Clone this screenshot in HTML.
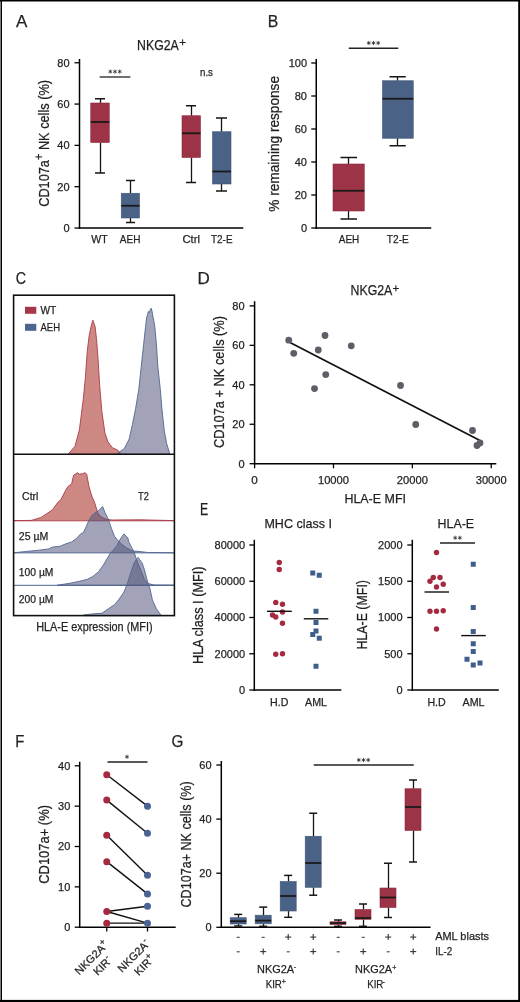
<!DOCTYPE html>
<html><head><meta charset="utf-8"><style>
html,body{margin:0;padding:0;background:#fff;width:520px;height:1002px;overflow:hidden;position:relative}
text{font-family:"Liberation Sans",sans-serif;stroke:#231f20;stroke-width:0.25px}
</style></head><body>
<svg width="520" height="1002" viewBox="0 0 520 1002" style="position:absolute;left:0;top:0;will-change:transform" font-family="Liberation Sans, sans-serif" fill="#231f20">
<rect width="520" height="1002" fill="#fff"/>
<text x="16.00" y="26.80" font-size="17" text-anchor="start" >A</text>
<text x="137.00" y="50.20" font-size="14.3" text-anchor="start" textLength="41.80" lengthAdjust="spacingAndGlyphs" >NKG2A</text>
<text x="179.20" y="46.20" font-size="11.5" text-anchor="start" >+</text>
<line x1="79.50" y1="59.00" x2="79.50" y2="228.70" stroke="#000" stroke-width="1.5"/>
<line x1="74.50" y1="228.00" x2="79.50" y2="228.00" stroke="#000" stroke-width="1.3"/>
<text x="69.60" y="231.95" font-size="11" text-anchor="end" >0</text>
<line x1="74.50" y1="186.69" x2="79.50" y2="186.69" stroke="#000" stroke-width="1.3"/>
<text x="69.60" y="190.64" font-size="11" text-anchor="end" >20</text>
<line x1="74.50" y1="145.38" x2="79.50" y2="145.38" stroke="#000" stroke-width="1.3"/>
<text x="69.60" y="149.33" font-size="11" text-anchor="end" >40</text>
<line x1="74.50" y1="104.06" x2="79.50" y2="104.06" stroke="#000" stroke-width="1.3"/>
<text x="69.60" y="108.01" font-size="11" text-anchor="end" >60</text>
<line x1="74.50" y1="62.75" x2="79.50" y2="62.75" stroke="#000" stroke-width="1.3"/>
<text x="69.60" y="66.70" font-size="11" text-anchor="end" >80</text>
<line x1="78.80" y1="228.00" x2="243.30" y2="228.00" stroke="#000" stroke-width="1.5"/>
<line x1="100.50" y1="98.75" x2="100.50" y2="103.00" stroke="#151515" stroke-width="1.3"/>
<line x1="100.50" y1="142.50" x2="100.50" y2="173.00" stroke="#151515" stroke-width="1.3"/>
<line x1="95.00" y1="98.75" x2="105.00" y2="98.75" stroke="#151515" stroke-width="1.5"/>
<line x1="95.00" y1="173.00" x2="105.00" y2="173.00" stroke="#151515" stroke-width="1.5"/>
<rect x="90.75" y="103.00" width="18.50" height="39.50" fill="#9d3346" stroke="#8f2a3c" stroke-width="0.6"/>
<line x1="90.75" y1="122.00" x2="109.25" y2="122.00" stroke="#1a1a1a" stroke-width="1.8"/>
<line x1="130.50" y1="180.50" x2="130.50" y2="193.25" stroke="#151515" stroke-width="1.3"/>
<line x1="130.50" y1="218.00" x2="130.50" y2="222.50" stroke="#151515" stroke-width="1.3"/>
<line x1="126.00" y1="180.50" x2="135.00" y2="180.50" stroke="#151515" stroke-width="1.5"/>
<line x1="126.00" y1="222.50" x2="135.00" y2="222.50" stroke="#151515" stroke-width="1.5"/>
<rect x="121.25" y="193.25" width="18.25" height="24.75" fill="#4a6286" stroke="#3f5678" stroke-width="0.6"/>
<line x1="121.25" y1="205.75" x2="139.50" y2="205.75" stroke="#1a1a1a" stroke-width="1.8"/>
<line x1="191.50" y1="105.75" x2="191.50" y2="115.75" stroke="#151515" stroke-width="1.3"/>
<line x1="191.50" y1="157.50" x2="191.50" y2="182.50" stroke="#151515" stroke-width="1.3"/>
<line x1="186.00" y1="105.75" x2="196.00" y2="105.75" stroke="#151515" stroke-width="1.5"/>
<line x1="186.00" y1="182.50" x2="196.00" y2="182.50" stroke="#151515" stroke-width="1.5"/>
<rect x="182.00" y="115.75" width="18.50" height="41.75" fill="#9d3346" stroke="#8f2a3c" stroke-width="0.6"/>
<line x1="182.00" y1="133.25" x2="200.50" y2="133.25" stroke="#1a1a1a" stroke-width="1.8"/>
<line x1="221.50" y1="118.00" x2="221.50" y2="131.75" stroke="#151515" stroke-width="1.3"/>
<line x1="221.50" y1="184.00" x2="221.50" y2="191.00" stroke="#151515" stroke-width="1.3"/>
<line x1="216.00" y1="118.00" x2="227.00" y2="118.00" stroke="#151515" stroke-width="1.5"/>
<line x1="216.00" y1="191.00" x2="227.00" y2="191.00" stroke="#151515" stroke-width="1.5"/>
<rect x="212.50" y="131.75" width="18.50" height="52.25" fill="#4a6286" stroke="#3f5678" stroke-width="0.6"/>
<line x1="212.50" y1="171.50" x2="231.00" y2="171.50" stroke="#1a1a1a" stroke-width="1.8"/>
<line x1="99.60" y1="77.00" x2="130.40" y2="77.00" stroke="#222" stroke-width="1.3"/>
<line x1="110.30" y1="69.50" x2="110.30" y2="73.70" stroke="#222" stroke-width="0.75"/>
<line x1="112.12" y1="70.55" x2="108.48" y2="72.65" stroke="#222" stroke-width="0.75"/>
<line x1="112.12" y1="72.65" x2="108.48" y2="70.55" stroke="#222" stroke-width="0.75"/>
<line x1="115.00" y1="69.50" x2="115.00" y2="73.70" stroke="#222" stroke-width="0.75"/>
<line x1="116.82" y1="70.55" x2="113.18" y2="72.65" stroke="#222" stroke-width="0.75"/>
<line x1="116.82" y1="72.65" x2="113.18" y2="70.55" stroke="#222" stroke-width="0.75"/>
<line x1="119.70" y1="69.50" x2="119.70" y2="73.70" stroke="#222" stroke-width="0.75"/>
<line x1="121.52" y1="70.55" x2="117.88" y2="72.65" stroke="#222" stroke-width="0.75"/>
<line x1="121.52" y1="72.65" x2="117.88" y2="70.55" stroke="#222" stroke-width="0.75"/>
<text x="200.00" y="76.20" font-size="11.3" text-anchor="start" textLength="13.00" lengthAdjust="spacingAndGlyphs" >n.s</text>
<text x="99.50" y="243.30" font-size="10.8" text-anchor="middle" textLength="16.40" lengthAdjust="spacingAndGlyphs" >WT</text>
<text x="130.10" y="243.30" font-size="10.8" text-anchor="middle" textLength="20.60" lengthAdjust="spacingAndGlyphs" >AEH</text>
<text x="191.20" y="243.30" font-size="10.8" text-anchor="middle" textLength="17.50" lengthAdjust="spacingAndGlyphs" >Ctrl</text>
<text x="221.80" y="243.30" font-size="10.8" text-anchor="middle" textLength="21.50" lengthAdjust="spacingAndGlyphs" >T2-E</text>
<text x="48.80" y="143.40" font-size="14.5" text-anchor="middle" textLength="126.80" lengthAdjust="spacingAndGlyphs" transform="rotate(-90 48.80 143.40)" >CD107a<tspan font-size="12.5" dy="-5.5">+</tspan><tspan dy="5.5"> NK cells (%)</tspan></text>
<text x="267.70" y="26.80" font-size="17" text-anchor="start" textLength="10.50" lengthAdjust="spacingAndGlyphs" >B</text>
<line x1="316.25" y1="59.00" x2="316.25" y2="228.70" stroke="#000" stroke-width="1.5"/>
<line x1="311.25" y1="228.00" x2="316.25" y2="228.00" stroke="#000" stroke-width="1.3"/>
<text x="307.00" y="231.95" font-size="11" text-anchor="end" >0</text>
<line x1="311.25" y1="195.00" x2="316.25" y2="195.00" stroke="#000" stroke-width="1.3"/>
<text x="307.00" y="198.95" font-size="11" text-anchor="end" >20</text>
<line x1="311.25" y1="162.00" x2="316.25" y2="162.00" stroke="#000" stroke-width="1.3"/>
<text x="307.00" y="165.95" font-size="11" text-anchor="end" >40</text>
<line x1="311.25" y1="129.00" x2="316.25" y2="129.00" stroke="#000" stroke-width="1.3"/>
<text x="307.00" y="132.95" font-size="11" text-anchor="end" >60</text>
<line x1="311.25" y1="96.00" x2="316.25" y2="96.00" stroke="#000" stroke-width="1.3"/>
<text x="307.00" y="99.95" font-size="11" text-anchor="end" >80</text>
<line x1="311.25" y1="63.00" x2="316.25" y2="63.00" stroke="#000" stroke-width="1.3"/>
<text x="307.00" y="66.95" font-size="11" text-anchor="end" >100</text>
<line x1="315.55" y1="228.00" x2="431.25" y2="228.00" stroke="#000" stroke-width="1.5"/>
<line x1="348.50" y1="157.50" x2="348.50" y2="164.00" stroke="#151515" stroke-width="1.3"/>
<line x1="348.50" y1="211.00" x2="348.50" y2="219.00" stroke="#151515" stroke-width="1.3"/>
<line x1="340.50" y1="157.50" x2="357.00" y2="157.50" stroke="#151515" stroke-width="1.5"/>
<line x1="340.50" y1="219.00" x2="357.00" y2="219.00" stroke="#151515" stroke-width="1.5"/>
<rect x="333.00" y="164.00" width="31.25" height="47.00" fill="#9d3346" stroke="#8f2a3c" stroke-width="0.6"/>
<line x1="333.00" y1="190.75" x2="364.25" y2="190.75" stroke="#1a1a1a" stroke-width="1.8"/>
<line x1="397.50" y1="76.75" x2="397.50" y2="80.75" stroke="#151515" stroke-width="1.3"/>
<line x1="397.50" y1="138.25" x2="397.50" y2="145.75" stroke="#151515" stroke-width="1.3"/>
<line x1="389.50" y1="76.75" x2="405.75" y2="76.75" stroke="#151515" stroke-width="1.5"/>
<line x1="389.50" y1="145.75" x2="405.75" y2="145.75" stroke="#151515" stroke-width="1.5"/>
<rect x="382.50" y="80.75" width="30.75" height="57.50" fill="#4a6286" stroke="#3f5678" stroke-width="0.6"/>
<line x1="382.50" y1="98.75" x2="413.25" y2="98.75" stroke="#1a1a1a" stroke-width="1.8"/>
<line x1="348.75" y1="48.25" x2="398.25" y2="48.25" stroke="#222" stroke-width="1.3"/>
<line x1="368.80" y1="40.90" x2="368.80" y2="45.10" stroke="#222" stroke-width="0.75"/>
<line x1="370.62" y1="41.95" x2="366.98" y2="44.05" stroke="#222" stroke-width="0.75"/>
<line x1="370.62" y1="44.05" x2="366.98" y2="41.95" stroke="#222" stroke-width="0.75"/>
<line x1="373.50" y1="40.90" x2="373.50" y2="45.10" stroke="#222" stroke-width="0.75"/>
<line x1="375.32" y1="41.95" x2="371.68" y2="44.05" stroke="#222" stroke-width="0.75"/>
<line x1="375.32" y1="44.05" x2="371.68" y2="41.95" stroke="#222" stroke-width="0.75"/>
<line x1="378.20" y1="40.90" x2="378.20" y2="45.10" stroke="#222" stroke-width="0.75"/>
<line x1="380.02" y1="41.95" x2="376.38" y2="44.05" stroke="#222" stroke-width="0.75"/>
<line x1="380.02" y1="44.05" x2="376.38" y2="41.95" stroke="#222" stroke-width="0.75"/>
<text x="349.00" y="243.30" font-size="10.8" text-anchor="middle" textLength="20.50" lengthAdjust="spacingAndGlyphs" >AEH</text>
<text x="397.80" y="243.30" font-size="10.8" text-anchor="middle" textLength="22.00" lengthAdjust="spacingAndGlyphs" >T2-E</text>
<text x="279.00" y="143.85" font-size="14.5" text-anchor="middle" textLength="135.70" lengthAdjust="spacingAndGlyphs" transform="rotate(-90 279.00 143.85)" >% remaining response</text>
<text x="15.70" y="284.10" font-size="17" text-anchor="start" textLength="10.30" lengthAdjust="spacingAndGlyphs" >C</text>
<path d="M68.20,454.20 L68.20,454.20 L75.00,446.20 L79.40,429.80 L83.20,399.80 L85.40,377.40 L87.20,351.90 L89.20,335.40 L91.40,325.00 L92.90,320.20 L95.10,326.50 L96.60,339.90 L98.10,359.40 L99.60,384.80 L101.90,411.80 L104.90,432.80 L107.90,441.70 L112.30,447.70 L117.60,450.00 L121.30,454.20 L121.30,454.20 Z" fill="#b54a44" fill-opacity="0.66" stroke="#ac3a48" stroke-width="0.9" stroke-linejoin="round"/>
<path d="M116.40,454.20 L116.40,454.20 L124.40,448.50 L129.20,438.90 L132.40,424.60 L135.60,408.60 L138.80,389.40 L141.20,367.10 L143.60,344.70 L145.50,327.10 L146.60,318.00 L147.60,314.40 L148.40,311.50 L149.20,313.00 L150.20,310.00 L151.20,308.30 L152.00,311.00 L152.80,316.00 L154.70,325.60 L156.30,343.10 L157.90,367.10 L160.30,389.40 L161.90,408.60 L164.30,430.90 L166.70,443.70 L169.90,454.20 L169.90,454.20 Z" fill="#4f5278" fill-opacity="0.53" stroke="#506690" stroke-width="0.9" stroke-linejoin="round"/>
<path d="M13.60,520.80 L13.60,520.60 L31.30,520.40 L40.90,517.50 L46.70,513.70 L52.50,509.80 L57.30,503.10 L61.10,499.20 L65.00,491.50 L67.80,486.70 L71.70,483.80 L73.60,475.20 L77.50,472.70 L79.40,474.20 L82.30,473.70 L85.20,472.70 L86.70,474.20 L89.00,486.70 L91.90,496.30 L94.80,503.10 L97.70,512.70 L100.50,516.50 L106.30,519.40 L112.00,520.00 L140.00,519.80 L174.40,520.60 L174.40,520.80 Z" fill="#b54a44" fill-opacity="0.66" stroke="#ac3a48" stroke-width="0.9" stroke-linejoin="round"/>
<path d="M13.60,552.90 L13.60,552.80 L25.50,551.50 L37.10,550.40 L48.60,549.00 L52.50,547.10 L60.20,546.20 L65.90,543.80 L71.70,541.90 L76.50,538.50 L80.30,534.20 L83.20,532.70 L86.10,526.90 L89.00,520.20 L91.90,515.40 L94.80,513.10 L98.60,510.60 L102.70,506.60 L105.00,512.60 L108.20,518.90 L109.80,523.70 L111.40,528.40 L114.50,536.30 L117.70,540.20 L121.60,544.20 L125.50,547.30 L131.90,550.80 L141.30,551.70 L147.60,552.50 L174.40,552.80 L174.40,552.90 Z" fill="#4f5278" fill-opacity="0.53" stroke="#506690" stroke-width="0.9" stroke-linejoin="round"/>
<line x1="13.6" y1="585.3" x2="174.4" y2="585.3" stroke="#4a6491" stroke-width="1"/>
<path d="M57.30,585.30 L57.30,585.20 L69.80,583.30 L79.40,581.30 L87.10,579.40 L92.80,576.50 L98.60,571.70 L103.40,565.00 L107.30,558.30 L110.20,553.50 L112.90,550.50 L116.90,545.70 L119.20,541.00 L121.60,537.10 L124.00,533.90 L127.90,537.90 L128.70,541.60 L131.90,547.90 L134.20,552.60 L135.80,557.40 L138.20,563.70 L141.30,571.50 L144.50,579.40 L147.60,583.40 L153.90,585.00 L174.40,585.20 L174.40,585.30 Z" fill="#4f5278" fill-opacity="0.53" stroke="#506690" stroke-width="0.9" stroke-linejoin="round"/>
<path d="M83.20,615.60 L83.20,615.00 L94.80,613.70 L101.90,613.30 L109.80,607.80 L114.50,604.70 L119.20,599.10 L124.00,592.00 L127.10,584.20 L131.10,571.50 L134.20,562.90 L136.60,558.90 L138.20,557.40 L139.70,559.70 L142.10,562.90 L144.50,570.00 L147.60,581.80 L150.00,588.90 L152.40,599.90 L156.30,608.60 L161.00,615.40 L161.00,615.60 Z" fill="#4f5278" fill-opacity="0.53" stroke="#506690" stroke-width="0.9" stroke-linejoin="round"/>
<rect x="13.6" y="295.2" width="160.8" height="320.4" fill="none" stroke="#111" stroke-width="1.6"/>
<line x1="13.60" y1="454.20" x2="174.40" y2="454.20" stroke="#111" stroke-width="1.6"/>
<rect x="25" y="306.8" width="11.3" height="7" fill="#a7364a"/>
<rect x="25" y="323.8" width="11.3" height="7" fill="#4d6690"/>
<text x="40.50" y="313.80" font-size="10.5" text-anchor="start" textLength="15.80" lengthAdjust="spacingAndGlyphs" >WT</text>
<text x="40.50" y="330.80" font-size="10.5" text-anchor="start" textLength="19.50" lengthAdjust="spacingAndGlyphs" >AEH</text>
<text x="22.10" y="500.20" font-size="10.6" text-anchor="start" textLength="16.30" lengthAdjust="spacingAndGlyphs" >Ctrl</text>
<text x="138.00" y="500.20" font-size="10.6" text-anchor="start" textLength="10.80" lengthAdjust="spacingAndGlyphs" >T2</text>
<text x="18.80" y="539.50" font-size="10.6" text-anchor="start" textLength="29.50" lengthAdjust="spacingAndGlyphs" >25 µM</text>
<text x="18.80" y="575.70" font-size="10.6" text-anchor="start" textLength="34.70" lengthAdjust="spacingAndGlyphs" >100 µM</text>
<text x="18.80" y="603.20" font-size="10.6" text-anchor="start" textLength="34.70" lengthAdjust="spacingAndGlyphs" >200 µM</text>
<text x="94.40" y="631.30" font-size="12.2" text-anchor="middle" textLength="116.30" lengthAdjust="spacingAndGlyphs" >HLA-E expression (MFI)</text>
<text x="197.60" y="283.90" font-size="17" text-anchor="start" >D</text>
<text x="350.50" y="295.40" font-size="14.3" text-anchor="start" textLength="41.80" lengthAdjust="spacingAndGlyphs" >NKG2A</text>
<text x="392.50" y="291.50" font-size="11.5" text-anchor="start" >+</text>
<line x1="254.60" y1="301.20" x2="254.60" y2="464.40" stroke="#000" stroke-width="1.5"/>
<line x1="249.60" y1="463.70" x2="254.60" y2="463.70" stroke="#000" stroke-width="1.3"/>
<text x="244.60" y="467.65" font-size="11" text-anchor="end" >0</text>
<line x1="249.60" y1="424.25" x2="254.60" y2="424.25" stroke="#000" stroke-width="1.3"/>
<text x="244.60" y="428.20" font-size="11" text-anchor="end" >20</text>
<line x1="249.60" y1="384.80" x2="254.60" y2="384.80" stroke="#000" stroke-width="1.3"/>
<text x="244.60" y="388.75" font-size="11" text-anchor="end" >40</text>
<line x1="249.60" y1="345.35" x2="254.60" y2="345.35" stroke="#000" stroke-width="1.3"/>
<text x="244.60" y="349.30" font-size="11" text-anchor="end" >60</text>
<line x1="249.60" y1="305.90" x2="254.60" y2="305.90" stroke="#000" stroke-width="1.3"/>
<text x="244.60" y="309.85" font-size="11" text-anchor="end" >80</text>
<line x1="253.90" y1="463.70" x2="496.30" y2="463.70" stroke="#000" stroke-width="1.5"/>
<line x1="254.60" y1="463.70" x2="254.60" y2="468.30" stroke="#000" stroke-width="1.3"/>
<text x="254.60" y="483.60" font-size="11" text-anchor="middle" textLength="6.50" lengthAdjust="spacingAndGlyphs" >0</text>
<line x1="333.48" y1="463.70" x2="333.48" y2="468.30" stroke="#000" stroke-width="1.3"/>
<text x="333.48" y="483.60" font-size="11" text-anchor="middle" textLength="31.00" lengthAdjust="spacingAndGlyphs" >10000</text>
<line x1="412.35" y1="463.70" x2="412.35" y2="468.30" stroke="#000" stroke-width="1.3"/>
<text x="412.35" y="483.60" font-size="11" text-anchor="middle" textLength="31.00" lengthAdjust="spacingAndGlyphs" >20000</text>
<line x1="491.23" y1="463.70" x2="491.23" y2="468.30" stroke="#000" stroke-width="1.3"/>
<text x="491.23" y="483.60" font-size="11" text-anchor="middle" textLength="31.00" lengthAdjust="spacingAndGlyphs" >30000</text>
<line x1="290.00" y1="342.50" x2="480.00" y2="440.50" stroke="#111" stroke-width="1.7"/>
<circle cx="288.75" cy="340.2" r="3.4" fill="#5d5f68"/>
<circle cx="293.75" cy="353.3" r="3.4" fill="#5d5f68"/>
<circle cx="318.25" cy="350" r="3.4" fill="#5d5f68"/>
<circle cx="325" cy="335.5" r="3.4" fill="#5d5f68"/>
<circle cx="351.25" cy="345.8" r="3.4" fill="#5d5f68"/>
<circle cx="325.75" cy="374.6" r="3.4" fill="#5d5f68"/>
<circle cx="314.5" cy="388.6" r="3.4" fill="#5d5f68"/>
<circle cx="400.5" cy="385.5" r="3.4" fill="#5d5f68"/>
<circle cx="415.75" cy="424.5" r="3.4" fill="#5d5f68"/>
<circle cx="472.5" cy="430.5" r="3.4" fill="#5d5f68"/>
<circle cx="480" cy="443" r="3.4" fill="#5d5f68"/>
<circle cx="477" cy="445.5" r="3.4" fill="#5d5f68"/>
<text x="223.50" y="382.00" font-size="14.5" text-anchor="middle" textLength="132.00" lengthAdjust="spacingAndGlyphs" transform="rotate(-90 223.50 382.00)" >CD107a + NK cells (%)</text>
<text x="375.20" y="503.20" font-size="13" text-anchor="middle" textLength="61.60" lengthAdjust="spacingAndGlyphs" >HLA-E MFI</text>
<text x="200.00" y="515.10" font-size="17" text-anchor="start" textLength="8.20" lengthAdjust="spacingAndGlyphs" >E</text>
<text x="298.20" y="527.60" font-size="13.2" text-anchor="middle" textLength="67.50" lengthAdjust="spacingAndGlyphs" >MHC class I</text>
<text x="455.80" y="527.80" font-size="13.2" text-anchor="middle" textLength="36.50" lengthAdjust="spacingAndGlyphs" >HLA-E</text>
<line x1="254.30" y1="539.80" x2="254.30" y2="690.70" stroke="#000" stroke-width="1.5"/>
<line x1="249.30" y1="690.00" x2="254.30" y2="690.00" stroke="#000" stroke-width="1.3"/>
<text x="245.20" y="693.95" font-size="11" text-anchor="end" >0</text>
<line x1="249.30" y1="653.75" x2="254.30" y2="653.75" stroke="#000" stroke-width="1.3"/>
<text x="245.20" y="657.70" font-size="11" text-anchor="end" >20000</text>
<line x1="249.30" y1="617.50" x2="254.30" y2="617.50" stroke="#000" stroke-width="1.3"/>
<text x="245.20" y="621.45" font-size="11" text-anchor="end" >40000</text>
<line x1="249.30" y1="581.25" x2="254.30" y2="581.25" stroke="#000" stroke-width="1.3"/>
<text x="245.20" y="585.20" font-size="11" text-anchor="end" >60000</text>
<line x1="249.30" y1="545.00" x2="254.30" y2="545.00" stroke="#000" stroke-width="1.3"/>
<text x="245.20" y="548.95" font-size="11" text-anchor="end" >80000</text>
<line x1="253.60" y1="690.00" x2="341.30" y2="690.00" stroke="#000" stroke-width="1.5"/>
<circle cx="279.25" cy="562.5" r="2.7" fill="#a52a40"/>
<circle cx="279.25" cy="569.5" r="2.7" fill="#a52a40"/>
<circle cx="275.75" cy="602.5" r="2.7" fill="#a52a40"/>
<circle cx="282.5" cy="604.25" r="2.7" fill="#a52a40"/>
<circle cx="282.5" cy="612" r="2.7" fill="#a52a40"/>
<circle cx="272.5" cy="615" r="2.7" fill="#a52a40"/>
<circle cx="275.75" cy="617" r="2.7" fill="#a52a40"/>
<circle cx="282.5" cy="623.25" r="2.7" fill="#a52a40"/>
<circle cx="275.75" cy="654.25" r="2.7" fill="#a52a40"/>
<circle cx="282.5" cy="653.75" r="2.7" fill="#a52a40"/>
<rect x="310.25" y="570.5" width="5" height="5" fill="#3f5e8c"/>
<rect x="316.75" y="572.75" width="5" height="5" fill="#3f5e8c"/>
<rect x="313.5" y="608.75" width="5" height="5" fill="#3f5e8c"/>
<rect x="313.5" y="620.0" width="5" height="5" fill="#3f5e8c"/>
<rect x="313.5" y="628.5" width="5" height="5" fill="#3f5e8c"/>
<rect x="310.25" y="632.0" width="5" height="5" fill="#3f5e8c"/>
<rect x="316.75" y="635.7" width="5" height="5" fill="#3f5e8c"/>
<rect x="313.5" y="663.75" width="5" height="5" fill="#3f5e8c"/>
<line x1="267.00" y1="611.30" x2="291.80" y2="611.30" stroke="#111" stroke-width="1.4"/>
<line x1="303.80" y1="618.80" x2="328.30" y2="618.80" stroke="#111" stroke-width="1.4"/>
<text x="279.20" y="705.60" font-size="11.2" text-anchor="middle" textLength="18.30" lengthAdjust="spacingAndGlyphs" >H.D</text>
<text x="316.00" y="705.60" font-size="11.2" text-anchor="middle" textLength="22.00" lengthAdjust="spacingAndGlyphs" >AML</text>
<text x="203.30" y="615.20" font-size="14.5" text-anchor="middle" textLength="97.50" lengthAdjust="spacingAndGlyphs" transform="rotate(-90 203.30 615.20)" >HLA class I (MFI)</text>
<line x1="412.30" y1="539.80" x2="412.30" y2="690.70" stroke="#000" stroke-width="1.5"/>
<line x1="407.30" y1="690.00" x2="412.30" y2="690.00" stroke="#000" stroke-width="1.3"/>
<text x="402.60" y="693.95" font-size="11" text-anchor="end" >0</text>
<line x1="407.30" y1="653.75" x2="412.30" y2="653.75" stroke="#000" stroke-width="1.3"/>
<text x="402.60" y="657.70" font-size="11" text-anchor="end" >500</text>
<line x1="407.30" y1="617.50" x2="412.30" y2="617.50" stroke="#000" stroke-width="1.3"/>
<text x="402.60" y="621.45" font-size="11" text-anchor="end" >1000</text>
<line x1="407.30" y1="581.25" x2="412.30" y2="581.25" stroke="#000" stroke-width="1.3"/>
<text x="402.60" y="585.20" font-size="11" text-anchor="end" >1500</text>
<line x1="407.30" y1="545.00" x2="412.30" y2="545.00" stroke="#000" stroke-width="1.3"/>
<text x="402.60" y="548.95" font-size="11" text-anchor="end" >2000</text>
<line x1="411.60" y1="690.00" x2="498.80" y2="690.00" stroke="#000" stroke-width="1.5"/>
<circle cx="436.5" cy="552.5" r="2.7" fill="#a52a40"/>
<circle cx="433.25" cy="577.5" r="2.7" fill="#a52a40"/>
<circle cx="440" cy="577.5" r="2.7" fill="#a52a40"/>
<circle cx="430" cy="581.25" r="2.7" fill="#a52a40"/>
<circle cx="443.25" cy="584.25" r="2.7" fill="#a52a40"/>
<circle cx="436.5" cy="587" r="2.7" fill="#a52a40"/>
<circle cx="430" cy="611.25" r="2.7" fill="#a52a40"/>
<circle cx="436.5" cy="611.25" r="2.7" fill="#a52a40"/>
<circle cx="443.25" cy="610.75" r="2.7" fill="#a52a40"/>
<circle cx="436.5" cy="629" r="2.7" fill="#a52a40"/>
<rect x="470.75" y="561.75" width="5" height="5" fill="#3f5e8c"/>
<rect x="470.75" y="605.0" width="5" height="5" fill="#3f5e8c"/>
<rect x="470.75" y="629.0" width="5" height="5" fill="#3f5e8c"/>
<rect x="470.75" y="641.25" width="5" height="5" fill="#3f5e8c"/>
<rect x="470.75" y="649.0" width="5" height="5" fill="#3f5e8c"/>
<rect x="464.5" y="656.75" width="5" height="5" fill="#3f5e8c"/>
<rect x="470.75" y="662.5" width="5" height="5" fill="#3f5e8c"/>
<rect x="477.5" y="660.5" width="5" height="5" fill="#3f5e8c"/>
<line x1="424.50" y1="592.00" x2="449.00" y2="592.00" stroke="#111" stroke-width="1.4"/>
<line x1="461.25" y1="635.60" x2="485.75" y2="635.60" stroke="#111" stroke-width="1.4"/>
<line x1="440.00" y1="543.00" x2="475.00" y2="543.00" stroke="#222" stroke-width="1.3"/>
<line x1="455.15" y1="535.70" x2="455.15" y2="539.90" stroke="#222" stroke-width="0.75"/>
<line x1="456.97" y1="536.75" x2="453.33" y2="538.85" stroke="#222" stroke-width="0.75"/>
<line x1="456.97" y1="538.85" x2="453.33" y2="536.75" stroke="#222" stroke-width="0.75"/>
<line x1="459.85" y1="535.70" x2="459.85" y2="539.90" stroke="#222" stroke-width="0.75"/>
<line x1="461.67" y1="536.75" x2="458.03" y2="538.85" stroke="#222" stroke-width="0.75"/>
<line x1="461.67" y1="538.85" x2="458.03" y2="536.75" stroke="#222" stroke-width="0.75"/>
<text x="436.60" y="705.60" font-size="11.2" text-anchor="middle" textLength="18.30" lengthAdjust="spacingAndGlyphs" >H.D</text>
<text x="473.50" y="705.60" font-size="11.2" text-anchor="middle" textLength="22.00" lengthAdjust="spacingAndGlyphs" >AML</text>
<text x="367.50" y="614.80" font-size="14.5" text-anchor="middle" textLength="69.60" lengthAdjust="spacingAndGlyphs" transform="rotate(-90 367.50 614.80)" >HLA-E (MFI)</text>
<text x="15.30" y="746.60" font-size="17" text-anchor="start" textLength="9.10" lengthAdjust="spacingAndGlyphs" >F</text>
<line x1="79.70" y1="761.80" x2="79.70" y2="927.90" stroke="#000" stroke-width="1.5"/>
<line x1="74.70" y1="927.20" x2="79.70" y2="927.20" stroke="#000" stroke-width="1.3"/>
<text x="70.30" y="931.15" font-size="11" text-anchor="end" >0</text>
<line x1="74.70" y1="886.85" x2="79.70" y2="886.85" stroke="#000" stroke-width="1.3"/>
<text x="70.30" y="890.80" font-size="11" text-anchor="end" >10</text>
<line x1="74.70" y1="846.50" x2="79.70" y2="846.50" stroke="#000" stroke-width="1.3"/>
<text x="70.30" y="850.45" font-size="11" text-anchor="end" >20</text>
<line x1="74.70" y1="806.15" x2="79.70" y2="806.15" stroke="#000" stroke-width="1.3"/>
<text x="70.30" y="810.10" font-size="11" text-anchor="end" >30</text>
<line x1="74.70" y1="765.80" x2="79.70" y2="765.80" stroke="#000" stroke-width="1.3"/>
<text x="70.30" y="769.75" font-size="11" text-anchor="end" >40</text>
<line x1="79.00" y1="927.20" x2="175.70" y2="927.20" stroke="#000" stroke-width="1.5"/>
<line x1="106.75" y1="927.20" x2="106.75" y2="931.50" stroke="#000" stroke-width="1.3"/>
<line x1="147.50" y1="927.20" x2="147.50" y2="931.50" stroke="#000" stroke-width="1.3"/>
<line x1="106.75" y1="774.68" x2="147.50" y2="806.15" stroke="#111" stroke-width="1.4"/>
<line x1="106.75" y1="800.10" x2="147.50" y2="833.18" stroke="#111" stroke-width="1.4"/>
<line x1="106.75" y1="835.20" x2="147.50" y2="875.15" stroke="#111" stroke-width="1.4"/>
<line x1="106.75" y1="861.63" x2="147.50" y2="893.91" stroke="#111" stroke-width="1.4"/>
<line x1="106.75" y1="911.46" x2="147.50" y2="906.22" stroke="#111" stroke-width="1.4"/>
<line x1="106.75" y1="911.46" x2="147.50" y2="923.17" stroke="#111" stroke-width="1.4"/>
<line x1="106.75" y1="923.17" x2="147.50" y2="923.17" stroke="#111" stroke-width="1.4"/>
<circle cx="106.75" cy="774.68" r="3.5" fill="#a52a40"/>
<circle cx="106.75" cy="800.10" r="3.5" fill="#a52a40"/>
<circle cx="106.75" cy="835.20" r="3.5" fill="#a52a40"/>
<circle cx="106.75" cy="861.63" r="3.5" fill="#a52a40"/>
<circle cx="106.75" cy="911.46" r="3.5" fill="#a52a40"/>
<circle cx="106.75" cy="923.17" r="3.5" fill="#a52a40"/>
<circle cx="147.5" cy="806.15" r="3.5" fill="#4a6392"/>
<circle cx="147.5" cy="833.18" r="3.5" fill="#4a6392"/>
<circle cx="147.5" cy="875.15" r="3.5" fill="#4a6392"/>
<circle cx="147.5" cy="893.91" r="3.5" fill="#4a6392"/>
<circle cx="147.5" cy="906.22" r="3.5" fill="#4a6392"/>
<circle cx="147.5" cy="923.17" r="3.5" fill="#4a6392"/>
<line x1="107.50" y1="762.00" x2="147.50" y2="762.00" stroke="#222" stroke-width="1.3"/>
<line x1="127.00" y1="754.70" x2="127.00" y2="758.90" stroke="#222" stroke-width="0.75"/>
<line x1="128.82" y1="755.75" x2="125.18" y2="757.85" stroke="#222" stroke-width="0.75"/>
<line x1="128.82" y1="757.85" x2="125.18" y2="755.75" stroke="#222" stroke-width="0.75"/>
<text x="49.50" y="844.40" font-size="14.5" text-anchor="middle" textLength="78.80" lengthAdjust="spacingAndGlyphs" transform="rotate(-90 49.50 844.40)" >CD107a+ (%)</text>
<text x="109.40" y="945.40" font-size="11" text-anchor="end" transform="rotate(-45 109.40 945.40)" >NKG2A<tspan font-size="9" dy="-4.5">+</tspan></text>
<text x="112.80" y="961.00" font-size="11" text-anchor="end" transform="rotate(-45 112.80 961.00)" >KIR<tspan font-size="9" dy="-4.5">-</tspan></text>
<text x="150.60" y="944.40" font-size="11" text-anchor="end" transform="rotate(-45 150.60 944.40)" >NKG2A<tspan font-size="9" dy="-4.5">-</tspan></text>
<text x="155.50" y="959.50" font-size="11" text-anchor="end" transform="rotate(-45 155.50 959.50)" >KIR<tspan font-size="9" dy="-4.5">+</tspan></text>
<text x="171.40" y="746.60" font-size="17" text-anchor="start" textLength="11.90" lengthAdjust="spacingAndGlyphs" >G</text>
<line x1="221.30" y1="761.00" x2="221.30" y2="928.00" stroke="#000" stroke-width="1.5"/>
<line x1="216.30" y1="927.30" x2="221.30" y2="927.30" stroke="#000" stroke-width="1.3"/>
<text x="211.60" y="931.25" font-size="11" text-anchor="end" >0</text>
<line x1="216.30" y1="873.20" x2="221.30" y2="873.20" stroke="#000" stroke-width="1.3"/>
<text x="211.60" y="877.15" font-size="11" text-anchor="end" >20</text>
<line x1="216.30" y1="819.10" x2="221.30" y2="819.10" stroke="#000" stroke-width="1.3"/>
<text x="211.60" y="823.05" font-size="11" text-anchor="end" >40</text>
<line x1="216.30" y1="765.00" x2="221.30" y2="765.00" stroke="#000" stroke-width="1.3"/>
<text x="211.60" y="768.95" font-size="11" text-anchor="end" >60</text>
<line x1="220.60" y1="927.30" x2="430.60" y2="927.30" stroke="#000" stroke-width="1.5"/>
<line x1="238.50" y1="914.40" x2="238.50" y2="917.70" stroke="#151515" stroke-width="1.3"/>
<line x1="238.50" y1="924.00" x2="238.50" y2="926.00" stroke="#151515" stroke-width="1.3"/>
<line x1="234.20" y1="914.40" x2="242.20" y2="914.40" stroke="#151515" stroke-width="1.5"/>
<line x1="234.20" y1="926.00" x2="242.20" y2="926.00" stroke="#151515" stroke-width="1.5"/>
<rect x="230.20" y="917.70" width="16.00" height="6.30" fill="#4a6286" stroke="#3f5678" stroke-width="0.6"/>
<line x1="230.20" y1="921.20" x2="246.20" y2="921.20" stroke="#1a1a1a" stroke-width="1.8"/>
<line x1="263.50" y1="907.10" x2="263.50" y2="915.20" stroke="#151515" stroke-width="1.3"/>
<line x1="263.50" y1="923.80" x2="263.50" y2="926.30" stroke="#151515" stroke-width="1.3"/>
<line x1="259.20" y1="907.10" x2="267.20" y2="907.10" stroke="#151515" stroke-width="1.5"/>
<line x1="259.20" y1="926.30" x2="267.20" y2="926.30" stroke="#151515" stroke-width="1.5"/>
<rect x="255.20" y="915.20" width="16.00" height="8.60" fill="#4a6286" stroke="#3f5678" stroke-width="0.6"/>
<line x1="255.20" y1="920.60" x2="271.20" y2="920.60" stroke="#1a1a1a" stroke-width="1.8"/>
<line x1="288.50" y1="875.40" x2="288.50" y2="881.50" stroke="#151515" stroke-width="1.3"/>
<line x1="288.50" y1="911.00" x2="288.50" y2="917.30" stroke="#151515" stroke-width="1.3"/>
<line x1="284.20" y1="875.40" x2="292.20" y2="875.40" stroke="#151515" stroke-width="1.5"/>
<line x1="284.20" y1="917.30" x2="292.20" y2="917.30" stroke="#151515" stroke-width="1.5"/>
<rect x="280.20" y="881.50" width="16.00" height="29.50" fill="#4a6286" stroke="#3f5678" stroke-width="0.6"/>
<line x1="280.20" y1="896.00" x2="296.20" y2="896.00" stroke="#1a1a1a" stroke-width="1.8"/>
<line x1="313.50" y1="813.25" x2="313.50" y2="836.25" stroke="#151515" stroke-width="1.3"/>
<line x1="313.50" y1="887.30" x2="313.50" y2="895.20" stroke="#151515" stroke-width="1.3"/>
<line x1="309.20" y1="813.25" x2="317.20" y2="813.25" stroke="#151515" stroke-width="1.5"/>
<line x1="309.20" y1="895.20" x2="317.20" y2="895.20" stroke="#151515" stroke-width="1.5"/>
<rect x="305.20" y="836.25" width="16.00" height="51.05" fill="#4a6286" stroke="#3f5678" stroke-width="0.6"/>
<line x1="305.20" y1="863.00" x2="321.20" y2="863.00" stroke="#1a1a1a" stroke-width="1.8"/>
<line x1="338.50" y1="920.00" x2="338.50" y2="921.80" stroke="#151515" stroke-width="1.3"/>
<line x1="338.50" y1="924.60" x2="338.50" y2="926.30" stroke="#151515" stroke-width="1.3"/>
<line x1="334.00" y1="920.00" x2="342.00" y2="920.00" stroke="#151515" stroke-width="1.5"/>
<line x1="334.00" y1="926.30" x2="342.00" y2="926.30" stroke="#151515" stroke-width="1.5"/>
<rect x="330.00" y="921.80" width="16.00" height="2.80" fill="#9d3346" stroke="#8f2a3c" stroke-width="0.6"/>
<line x1="330.00" y1="923.00" x2="346.00" y2="923.00" stroke="#1a1a1a" stroke-width="1.8"/>
<line x1="363.50" y1="904.00" x2="363.50" y2="909.50" stroke="#151515" stroke-width="1.3"/>
<line x1="363.50" y1="919.30" x2="363.50" y2="926.30" stroke="#151515" stroke-width="1.3"/>
<line x1="359.00" y1="904.00" x2="367.00" y2="904.00" stroke="#151515" stroke-width="1.5"/>
<line x1="359.00" y1="926.30" x2="367.00" y2="926.30" stroke="#151515" stroke-width="1.5"/>
<rect x="355.00" y="909.50" width="16.00" height="9.80" fill="#9d3346" stroke="#8f2a3c" stroke-width="0.6"/>
<line x1="355.00" y1="918.00" x2="371.00" y2="918.00" stroke="#1a1a1a" stroke-width="1.8"/>
<line x1="388.50" y1="863.25" x2="388.50" y2="888.00" stroke="#151515" stroke-width="1.3"/>
<line x1="388.50" y1="907.50" x2="388.50" y2="917.50" stroke="#151515" stroke-width="1.3"/>
<line x1="384.00" y1="863.25" x2="392.00" y2="863.25" stroke="#151515" stroke-width="1.5"/>
<line x1="384.00" y1="917.50" x2="392.00" y2="917.50" stroke="#151515" stroke-width="1.5"/>
<rect x="380.00" y="888.00" width="16.00" height="19.50" fill="#9d3346" stroke="#8f2a3c" stroke-width="0.6"/>
<line x1="380.00" y1="897.50" x2="396.00" y2="897.50" stroke="#1a1a1a" stroke-width="1.8"/>
<line x1="413.50" y1="780.00" x2="413.50" y2="788.75" stroke="#151515" stroke-width="1.3"/>
<line x1="413.50" y1="830.50" x2="413.50" y2="862.00" stroke="#151515" stroke-width="1.3"/>
<line x1="409.00" y1="780.00" x2="417.00" y2="780.00" stroke="#151515" stroke-width="1.5"/>
<line x1="409.00" y1="862.00" x2="417.00" y2="862.00" stroke="#151515" stroke-width="1.5"/>
<rect x="405.00" y="788.75" width="16.00" height="41.75" fill="#9d3346" stroke="#8f2a3c" stroke-width="0.6"/>
<line x1="405.00" y1="807.00" x2="421.00" y2="807.00" stroke="#1a1a1a" stroke-width="1.8"/>
<line x1="313.75" y1="765.00" x2="413.75" y2="765.00" stroke="#222" stroke-width="1.3"/>
<line x1="358.80" y1="757.90" x2="358.80" y2="762.10" stroke="#222" stroke-width="0.75"/>
<line x1="360.62" y1="758.95" x2="356.98" y2="761.05" stroke="#222" stroke-width="0.75"/>
<line x1="360.62" y1="761.05" x2="356.98" y2="758.95" stroke="#222" stroke-width="0.75"/>
<line x1="363.50" y1="757.90" x2="363.50" y2="762.10" stroke="#222" stroke-width="0.75"/>
<line x1="365.32" y1="758.95" x2="361.68" y2="761.05" stroke="#222" stroke-width="0.75"/>
<line x1="365.32" y1="761.05" x2="361.68" y2="758.95" stroke="#222" stroke-width="0.75"/>
<line x1="368.20" y1="757.90" x2="368.20" y2="762.10" stroke="#222" stroke-width="0.75"/>
<line x1="370.02" y1="758.95" x2="366.38" y2="761.05" stroke="#222" stroke-width="0.75"/>
<line x1="370.02" y1="761.05" x2="366.38" y2="758.95" stroke="#222" stroke-width="0.75"/>
<line x1="236.70" y1="937.30" x2="239.70" y2="937.30" stroke="#444" stroke-width="1.1"/>
<line x1="236.70" y1="951.80" x2="239.70" y2="951.80" stroke="#444" stroke-width="1.1"/>
<line x1="261.70" y1="937.30" x2="264.70" y2="937.30" stroke="#444" stroke-width="1.1"/>
<line x1="260.20" y1="951.60" x2="266.20" y2="951.60" stroke="#333" stroke-width="1.1"/>
<line x1="263.20" y1="948.60" x2="263.20" y2="954.60" stroke="#333" stroke-width="1.1"/>
<line x1="285.20" y1="937.10" x2="291.20" y2="937.10" stroke="#333" stroke-width="1.1"/>
<line x1="288.20" y1="934.10" x2="288.20" y2="940.10" stroke="#333" stroke-width="1.1"/>
<line x1="286.70" y1="951.80" x2="289.70" y2="951.80" stroke="#444" stroke-width="1.1"/>
<line x1="310.20" y1="937.10" x2="316.20" y2="937.10" stroke="#333" stroke-width="1.1"/>
<line x1="313.20" y1="934.10" x2="313.20" y2="940.10" stroke="#333" stroke-width="1.1"/>
<line x1="310.20" y1="951.60" x2="316.20" y2="951.60" stroke="#333" stroke-width="1.1"/>
<line x1="313.20" y1="948.60" x2="313.20" y2="954.60" stroke="#333" stroke-width="1.1"/>
<line x1="336.70" y1="937.30" x2="339.70" y2="937.30" stroke="#444" stroke-width="1.1"/>
<line x1="336.70" y1="951.80" x2="339.70" y2="951.80" stroke="#444" stroke-width="1.1"/>
<line x1="361.70" y1="937.30" x2="364.70" y2="937.30" stroke="#444" stroke-width="1.1"/>
<line x1="360.20" y1="951.60" x2="366.20" y2="951.60" stroke="#333" stroke-width="1.1"/>
<line x1="363.20" y1="948.60" x2="363.20" y2="954.60" stroke="#333" stroke-width="1.1"/>
<line x1="385.20" y1="937.10" x2="391.20" y2="937.10" stroke="#333" stroke-width="1.1"/>
<line x1="388.20" y1="934.10" x2="388.20" y2="940.10" stroke="#333" stroke-width="1.1"/>
<line x1="386.70" y1="951.80" x2="389.70" y2="951.80" stroke="#444" stroke-width="1.1"/>
<line x1="410.20" y1="937.10" x2="416.20" y2="937.10" stroke="#333" stroke-width="1.1"/>
<line x1="413.20" y1="934.10" x2="413.20" y2="940.10" stroke="#333" stroke-width="1.1"/>
<line x1="410.20" y1="951.60" x2="416.20" y2="951.60" stroke="#333" stroke-width="1.1"/>
<line x1="413.20" y1="948.60" x2="413.20" y2="954.60" stroke="#333" stroke-width="1.1"/>
<text x="435.20" y="940.40" font-size="10.8" text-anchor="start" textLength="53.80" lengthAdjust="spacingAndGlyphs" >AML blasts</text>
<text x="435.20" y="955.20" font-size="10.8" text-anchor="start" textLength="17.00" lengthAdjust="spacingAndGlyphs" >IL-2</text>
<text x="257.00" y="973.30" font-size="11.2" text-anchor="start" textLength="37.00" lengthAdjust="spacingAndGlyphs" >NKG2A</text>
<text x="293.70" y="969.00" font-size="7.5" text-anchor="start" textLength="2.40" lengthAdjust="spacingAndGlyphs" >-</text>
<text x="265.70" y="988.10" font-size="11.2" text-anchor="start" textLength="16.20" lengthAdjust="spacingAndGlyphs" >KIR</text>
<text x="281.70" y="984.30" font-size="7" text-anchor="start" >+</text>
<text x="355.10" y="973.30" font-size="11.2" text-anchor="start" textLength="37.00" lengthAdjust="spacingAndGlyphs" >NKG2A</text>
<text x="392.20" y="969.60" font-size="7" text-anchor="start" >+</text>
<text x="367.20" y="988.10" font-size="11.2" text-anchor="start" textLength="16.20" lengthAdjust="spacingAndGlyphs" >KIR</text>
<text x="382.60" y="984.20" font-size="7.5" text-anchor="start" textLength="2.40" lengthAdjust="spacingAndGlyphs" >-</text>
<text x="190.90" y="844.40" font-size="14.5" text-anchor="middle" textLength="126.20" lengthAdjust="spacingAndGlyphs" transform="rotate(-90 190.90 844.40)" >CD107a+ NK cells (%)</text>
<rect x="0" y="0" width="520" height="1.5" fill="#000"/><rect x="0.5" y="0" width="1.5" height="1002" fill="#000"/><rect x="518.2" y="0" width="1.8" height="1002" fill="#000"/><rect x="0" y="999.9" width="520" height="2.1" fill="#000"/>
</svg>
</body></html>
